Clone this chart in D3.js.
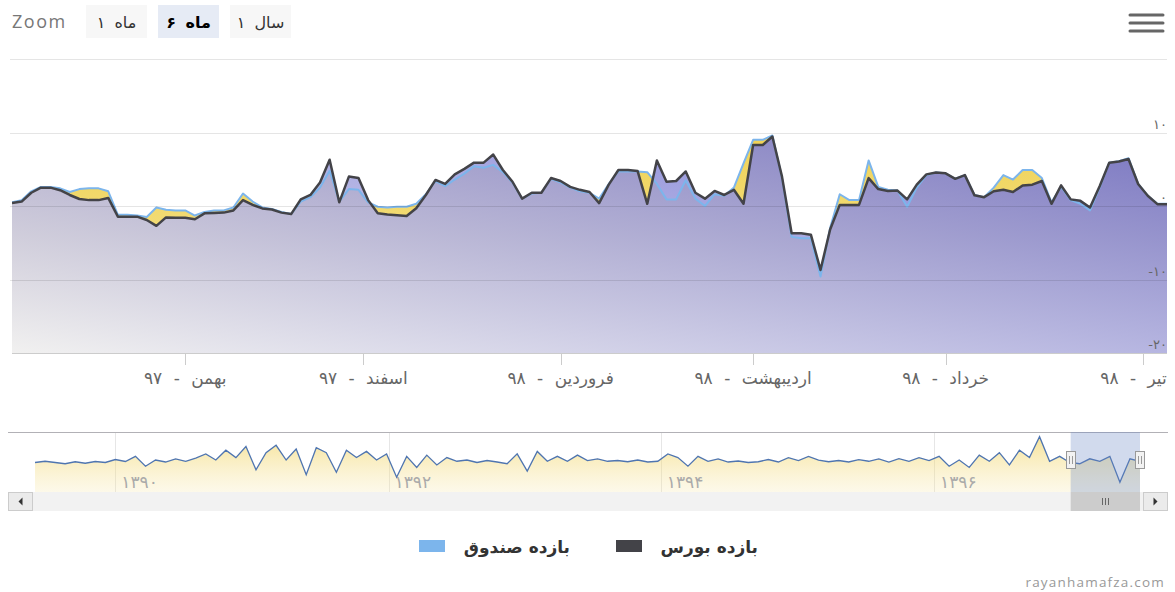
<!DOCTYPE html>
<html>
<head>
<meta charset="utf-8">
<script src="https://cdn.jsdelivr.net/npm/d3@7"></script>
<style>
  body { margin: 0; background: #fff; }
  svg { display: block; font-family: Tahoma, 'DejaVu Sans', sans-serif; }
</style>
</head>
<body>
<svg id="drawing_region"></svg>
<script>
// main window: one value per trading day (index based, ordinal axis)
const bourseValues = [
  0.4, 0.6, 1.8, 2.5, 2.5, 2.15, 1.5, 0.95, 0.8, 0.8,
  1.1, -1.45, -1.45, -1.45, -1.9, -2.7, -1.55, -1.6, -1.6, -1.8,
  -1.0, -0.95, -0.9, -0.6, 0.8, 0.15, -0.33, -0.47, -0.9, -1.1,
  0.9, 1.5, 3.2, 6.3, 0.5, 4.0, 3.8, 0.8, -1.0, -1.15,
  -1.25, -1.35, -0.3, 1.5, 3.55, 3.0, 4.3, 5.05, 5.9, 5.9,
  7.0, 4.9, 3.3, 1.0, 1.8, 1.8, 3.8, 3.4, 2.6, 2.2,
  1.9, 0.4, 2.9, 4.9, 4.9, 4.75, 0.3, 6.2, 3.3, 3.4,
  4.7, 1.8, 1.0, 2.05, 1.5, 2.2, 0.3, 8.3, 8.3, 9.45,
  4.0, -3.7, -3.7, -3.9, -8.7, -3.2, 0.15, 0.15, 0.15, 3.8,
  2.3, 2.05, 2.1, 0.9, 2.9, 4.3, 4.55, 4.45, 3.7, 4.2,
  1.45, 1.2, 2.0, 2.2, 1.9, 2.8, 2.9, 3.4, 0.3, 2.8,
  0.9, 0.7, -0.2, 2.7, 5.9, 6.05, 6.4, 3.0, 1.4, 0.25,
  0.25
];
const fundValues = [
  0.5, 0.8, 2.0, 2.6, 2.6, 2.4, 1.9, 2.3, 2.4, 2.4,
  2.0, -1.2, -1.2, -1.3, -1.5, -0.2, -0.5, -0.6, -0.6, -1.3,
  -0.8, -0.6, -0.6, -0.2, 1.7, 0.6, -0.2, -0.4, -0.8, -1.1,
  0.6, 1.2, 2.5, 4.8, 0.6, 2.3, 2.2, 0.5, -0.1, -0.2,
  -0.1, -0.1, 0.3, 1.6, 3.4, 2.7, 3.6, 4.4, 5.4, 5.2,
  5.6, 4.6, 3.2, 1.0, 1.7, 1.8, 3.7, 3.2, 2.5, 2.0,
  1.8, 1.0, 3.0, 4.7, 4.7, 4.7, 4.6, 3.0, 0.9, 0.9,
  3.5, 1.0, 0.0, 1.6, 1.4, 2.5, 5.8, 9.0, 9.0, 9.6,
  3.8, -4.2, -4.4, -4.4, -9.6, -3.0, 1.6, 0.8, 0.8, 6.2,
  2.6, 2.2, 2.1, -0.1, 2.5, 4.2, 4.55, 4.45, 3.7, 4.2,
  1.5, 1.2, 2.5, 4.2, 3.6, 4.9, 4.9, 3.8, 0.5, 2.6,
  0.8, 0.3, -0.6, 2.5, 5.9, 6.1, 6.5, 3.0, 1.4, 0.3,
  0.3
];
const monthLabels = ['بهمن - ۹۷', 'اسفند - ۹۷', 'فروردین - ۹۸', 'اردیبهشت - ۹۸', 'خرداد - ۹۸', 'تیر - ۹۸'];
const monthTickIndex = [18, 36.5, 57, 77, 97, 117.5];
const yTickValues = [-20, -10, 0, 10];
const yTickLabels = ['-۲۰', '-۱۰', '۰', '۱۰'];
const yGridValues = [-10, 0, 10, 20];

// navigator: whole history, coarse samples
const navValues = [
  0, 0.5, 0, -0.5, 0.3, -0.3, 0.4, 0, 1.2, 0.4,
  2.5, -1.5, 1.0, 0.2, 1.5, 0.5, 1.8, 3.5, 1.0, 5.0,
  2.0, 6.5, -3.0, 4.0, 7.0, 1.0, 5.5, -5.0, 6.0, 4.0,
  -4.0, 5.0, 2.0, 4.5, 1.0, 3.5, -6.0, 2.5, -2.0, 3.0,
  -1.0, 2.0, 0.5, 1.0, 0, 0.8, 0.2, -0.5, 3.5, -3.5,
  4.5, 0.5, 2.5, 0.5, 3.0, 0.8, 1.5, 0.5, 0.8, 0.3,
  1.0, 0.2, 0.5, 3.5, 2.0, -1.5, 2.5, 0.5, 1.5, 0.2,
  0.6, 0, 0.3, 1.2, 0.2, 2.0, 0.8, 2.5, 1.0, 0.3,
  0.8, 0.2, 1.2, 0.5, 1.5, 0.2, 1.6, 0.5, 2.0, 0.8,
  2.5, -1.5, 1.0, -2.0, 3.0, 0.5, 4.0, -1.0, 5.0, 2.0,
  10.5, 0.5, 2.5, 0, -0.5, 1.5, 0.5, 2.5, -8.0, 1.5,
  0.5
];
const navYearLabels = ['۱۳۹۰', '۱۳۹۲', '۱۳۹۴', '۱۳۹۶'];
const navYearIndex = [8, 35.2, 62.3, 89.5];
const navSelection = [103.1, 110];

const seriesNames = ['بازده بورس', 'بازده صندوق'];
const seriesColors = ['#434348', '#7cb5ec'];
const zoomButtons = ['۱ ماه', '۶ ماه', '۱ سال'];
const selectedButton = 1;

const W = 1175, H = 592;
const svg = d3.select('#drawing_region').attr('width', W).attr('height', H);
const defs = svg.append('defs');

// ---------- gradients ----------
const fundGrad = defs.append('linearGradient').attr('id', 'fundFill')
  .attr('gradientUnits', 'userSpaceOnUse')
  .attr('x1', 0).attr('y1', 59).attr('x2', 0).attr('y2', 353);
fundGrad.append('stop').attr('offset', 0).attr('stop-color', '#eecb3c');
fundGrad.append('stop').attr('offset', 0.6).attr('stop-color', '#f2dc78');
fundGrad.append('stop').attr('offset', 1).attr('stop-color', '#faf5e0');

const bourseGrad = defs.append('linearGradient').attr('id', 'bourseFill')
  .attr('x1', 0).attr('y1', 1).attr('x2', 1).attr('y2', 0);
bourseGrad.append('stop').attr('offset', 0).attr('stop-color', '#f0f0f2').attr('stop-opacity', 0.88);
bourseGrad.append('stop').attr('offset', 1).attr('stop-color', '#6a6ad0').attr('stop-opacity', 0.88);

const navGrad = defs.append('linearGradient').attr('id', 'navFill')
  .attr('gradientUnits', 'userSpaceOnUse')
  .attr('x1', 0).attr('y1', 440).attr('x2', 0).attr('y2', 492);
navGrad.append('stop').attr('offset', 0).attr('stop-color', '#f0cf50').attr('stop-opacity', 0.55);
navGrad.append('stop').attr('offset', 1).attr('stop-color', '#f6e6a8').attr('stop-opacity', 0.25);

// ---------- main chart ----------
const plot = { left: 12, right: 1167, top: 59, bottom: 353 };

const xscale = d3.scaleLinear()
  .domain([0, bourseValues.length - 1])
  .range([plot.left, plot.right]);
const yscale = d3.scaleLinear()
  .domain([-20, 20])
  .range([plot.bottom, plot.top]);

defs.append('clipPath').attr('id', 'plotClip')
  .append('rect')
  .attr('x', plot.left).attr('y', plot.top)
  .attr('width', plot.right - plot.left).attr('height', plot.bottom - plot.top);

const area = d3.area()
  .x((d, i) => xscale(i))
  .y0(yscale(-20))
  .y1(d => yscale(d));
const line = d3.line()
  .x((d, i) => xscale(i))
  .y(d => yscale(d));

const chart = svg.append('g').attr('clip-path', 'url(#plotClip)');

chart.append('path').datum(fundValues)
  .attr('d', area).attr('fill', 'url(#fundFill)');
chart.append('path').datum(bourseValues)
  .attr('d', area).attr('fill', 'url(#bourseFill)');

// grid lines
svg.append('g').selectAll('line').data(yGridValues).join('line')
  .attr('x1', plot.left - 2).attr('x2', plot.right)
  .attr('y1', d => Math.round(yscale(d)) + 0.5)
  .attr('y2', d => Math.round(yscale(d)) + 0.5)
  .attr('stroke', '#000').attr('stroke-opacity', 0.1);

chart.append('path').datum(fundValues)
  .attr('d', line).attr('fill', 'none')
  .attr('stroke', seriesColors[1]).attr('stroke-width', 2)
  .attr('stroke-linejoin', 'round');
chart.append('path').datum(bourseValues)
  .attr('d', line).attr('fill', 'none')
  .attr('stroke', seriesColors[0]).attr('stroke-width', 2.5)
  .attr('stroke-linejoin', 'round');

// x axis
svg.append('line')
  .attr('x1', plot.left).attr('x2', plot.right)
  .attr('y1', plot.bottom + 0.5).attr('y2', plot.bottom + 0.5)
  .attr('stroke', '#ccc');

const xaxis = svg.append('g');
xaxis.selectAll('line').data(monthTickIndex).join('line')
  .attr('x1', d => Math.round(xscale(d)) + 0.5)
  .attr('x2', d => Math.round(xscale(d)) + 0.5)
  .attr('y1', plot.bottom).attr('y2', plot.bottom + 12)
  .attr('stroke', '#ccc');
xaxis.selectAll('text').data(monthTickIndex).join('text')
  .attr('x', d => xscale(d))
  .attr('y', 384)
  .attr('text-anchor', 'middle')
  .attr('font-size', '17px')
  .attr('word-spacing', '6px')
  .attr('fill', '#666')
  .text((d, i) => monthLabels[i])
  .each(function() {
    const b = this.getBBox();
    if (b.x + b.width > plot.right) {
      d3.select(this).attr('x', +d3.select(this).attr('x') - (b.x + b.width - plot.right));
    }
  });

// y axis labels (right, inside)
svg.append('g').selectAll('text').data(yTickValues).join('text')
  .attr('x', plot.right)
  .attr('y', d => yscale(d) - 4)
  .attr('text-anchor', 'end')
  .attr('font-size', '13px')
  .attr('letter-spacing', '1.5px')
  .attr('fill', '#666')
  .text((d, i) => yTickLabels[i]);

// ---------- navigator ----------
const nav = { left: 35, right: 1140, top: 432, bottom: 492 };
const navX = d3.scaleLinear().domain([0, navValues.length - 1]).range([nav.left, nav.right]);
const navY = d3.scaleLinear().domain([-12, 12.4]).range([nav.bottom, nav.top]);

const navG = svg.append('g');
navG.selectAll('line.grid').data(navYearIndex).join('line')
  .attr('class', 'grid')
  .attr('x1', d => Math.round(navX(d)) + 0.5)
  .attr('x2', d => Math.round(navX(d)) + 0.5)
  .attr('y1', nav.top).attr('y2', nav.bottom)
  .attr('stroke', '#e6e6e6');

navG.append('path').datum(navValues)
  .attr('d', d3.area().x((d, i) => navX(i)).y0(nav.bottom).y1(d => navY(d)))
  .attr('fill', 'url(#navFill)');

navG.selectAll('text').data(navYearIndex).join('text')
  .attr('x', d => navX(d) + 6)
  .attr('y', 488)
  .attr('font-size', '17px')
  .attr('letter-spacing', '3px')
  .attr('fill', '#aaa')
  .text((d, i) => navYearLabels[i]);

navG.append('path').datum(navValues)
  .attr('d', d3.line().x((d, i) => navX(i)).y(d => navY(d)))
  .attr('fill', 'none')
  .attr('stroke', '#4f75b0').attr('stroke-width', 1.3);

navG.append('line')
  .attr('x1', 8).attr('x2', 1168)
  .attr('y1', nav.top + 0.5).attr('y2', nav.top + 0.5)
  .attr('stroke', '#b2b1b6');

const selX0 = navX(navSelection[0]), selX1 = navX(navSelection[1]);
navG.append('rect')
  .attr('x', selX0).attr('y', nav.top)
  .attr('width', selX1 - selX0).attr('height', nav.bottom - nav.top)
  .attr('fill', 'rgba(102,133,194,0.3)');

[selX0, selX1].forEach(hx => {
  const h = navG.append('g').attr('transform', `translate(${Math.round(hx)}, 451)`);
  h.append('rect').attr('x', -4.5).attr('y', 0.5).attr('width', 9).attr('height', 17)
    .attr('fill', '#f2f2f2').attr('stroke', '#999');
  [-1.5, 1.5].forEach(dx => {
    h.append('line').attr('x1', dx).attr('x2', dx).attr('y1', 5).attr('y2', 13)
      .attr('stroke', '#999');
  });
});

// scrollbar
const sb = svg.append('g');
sb.append('rect').attr('x', 8).attr('y', 492).attr('width', 1160).attr('height', 19)
  .attr('fill', '#f2f2f2');
sb.append('rect').attr('x', selX0).attr('y', 492).attr('width', selX1 - selX0).attr('height', 19)
  .attr('fill', '#cccccc');
[-3, 0, 3].forEach(dx => {
  sb.append('line')
    .attr('x1', Math.round((selX0 + selX1) / 2) + dx + 0.5)
    .attr('x2', Math.round((selX0 + selX1) / 2) + dx + 0.5)
    .attr('y1', 498).attr('y2', 505)
    .attr('stroke', '#666');
});
[{ x: 8, dir: -1 }, { x: 1143, dir: 1 }].forEach(b => {
  sb.append('rect').attr('x', b.x + 0.5).attr('y', 492.5).attr('width', 24).attr('height', 18)
    .attr('fill', '#ebebeb').attr('stroke', '#ccc');
  const cx = b.x + 12.5, cy = 501.5;
  sb.append('path')
    .attr('d', `M${cx - 2 * b.dir},${cy - 4}L${cx + 2 * b.dir},${cy}L${cx - 2 * b.dir},${cy + 4}Z`)
    .attr('fill', '#333');
});

// ---------- legend ----------
const legend = svg.append('g').attr('font-size', '17px').attr('font-weight', 'bold').attr('fill', '#333');
const legendItems = [
  { textEnd: 758, rectX: 616 },
  { textEnd: 570, rectX: 419 }
];
legendItems.forEach((it, i) => {
  legend.append('rect').attr('x', it.rectX).attr('y', 540).attr('width', 26).attr('height', 12)
    .attr('fill', seriesColors[i]);
  legend.append('text').attr('x', it.textEnd).attr('y', 553)
    .attr('text-anchor', 'end').text(seriesNames[i]);
});

// ---------- range selector ----------
svg.append('text').attr('x', 12).attr('y', 28)
  .attr('font-size', '18px').attr('letter-spacing', '1.5px').attr('fill', '#777')
  .attr('font-family', "'Open Sans', sans-serif")
  .text('Zoom');
const btnX = [86, 158, 230];
zoomButtons.forEach((label, i) => {
  // number drawn on the left of the word, as in the original buttons
  const [num, word] = label.split(' ');
  svg.append('rect').attr('x', btnX[i]).attr('y', 5).attr('width', 61).attr('height', 33)
    .attr('fill', i === selectedButton ? '#e6ebf5' : '#f7f7f7');
  svg.append('text').attr('x', btnX[i] + 30.5).attr('y', 28)
    .attr('text-anchor', 'middle').attr('font-size', '16px')
    .attr('word-spacing', '4px')
    .attr('font-weight', i === selectedButton ? 'bold' : 'normal')
    .attr('fill', i === selectedButton ? '#000' : '#333')
    .text(word + ' ' + num);
});

// export menu icon
[15, 23, 31].forEach(y => {
  svg.append('line').attr('x1', 1130).attr('x2', 1163).attr('y1', y).attr('y2', y)
    .attr('stroke', '#666').attr('stroke-width', 3).attr('stroke-linecap', 'round');
});

// credits
svg.append('text').attr('x', 1165).attr('y', 587)
  .attr('text-anchor', 'end').attr('font-size', '13.5px').attr('letter-spacing', '1.2px')
  .attr('fill', '#999')
  .attr('font-family', "'Open Sans', sans-serif")
  .text('rayanhamafza.com');
</script>
</body>
</html>
